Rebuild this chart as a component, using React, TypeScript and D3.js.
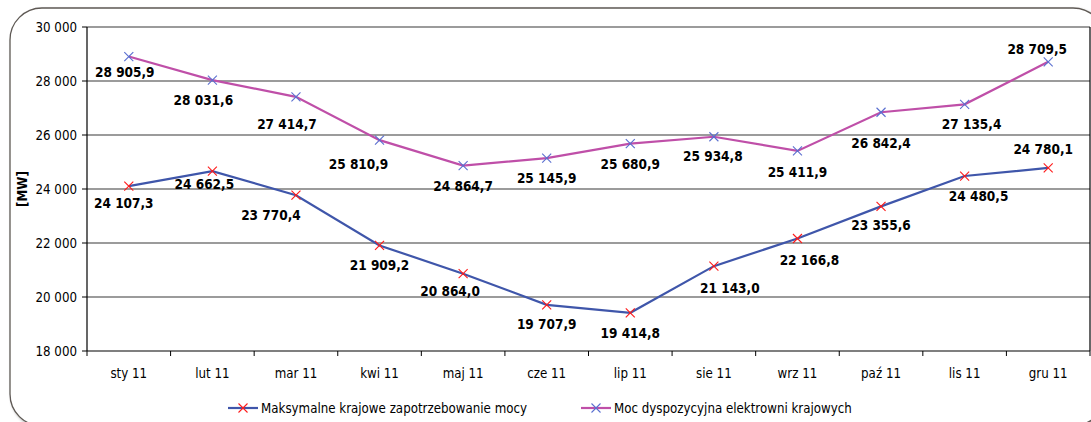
import * as d3 from "d3";

const months = ["sty 11", "lut 11", "mar 11", "kwi 11", "maj 11", "cze 11", "lip 11", "sie 11", "wrz 11", "paź 11", "lis 11", "gru 11"];
const demand = [24107.3, 24662.5, 23770.4, 21909.2, 20864.0, 19707.9, 19414.8, 21143.0, 22166.8, 23355.6, 24480.5, 24780.1];
const capacity = [28905.9, 28031.6, 27414.7, 25810.9, 24864.7, 25145.9, 25680.9, 25934.8, 25411.9, 26842.4, 27135.4, 28709.5];
const yTicks = [18000, 20000, 22000, 24000, 26000, 28000, 30000];
const seriesNames = ["Maksymalne krajowe zapotrzebowanie mocy", "Moc dyspozycyjna elektrowni krajowych"];

// label nudges relative to each point (px), the way the original placed them
const demandNudge: [number, number][] = [[-5, 17], [-8, 13], [-25, 20], [0, 20], [-13, 17], [0, 19], [0, 20], [16, 22], [12, 22], [0, 19], [14, 20], [-5, -19]];
const capacityNudge: [number, number][] = [[-4, 15], [-9, 20], [-9, 27], [-21, 24], [0, 20], [0, 20], [0, 20], [-1, 19], [0, 21], [0, 31], [7, 20], [-11, -13]];

const W = 1091;
const H = 422;
const plot = { left: 87, right: 1090, top: 27, bottom: 351 };

const BLUE = "#3f56aa";
const MAGENTA = "#bf4fa8";
const RED_X = "#ff1a1a";
const BLUE_X = "#5a6fd0";
const GRID = "#7a7a7a";
const FONT = "'DejaVu Sans Condensed', 'DejaVu Sans', sans-serif";
const SMALL = 13.2;

const fmt = (v: number, dec: number) => {
  const s = v.toFixed(dec).replace(".", ",");
  const [int, frac] = s.split(",");
  const grouped = int.replace(/\B(?=(\d{3})+(?!\d))/g, " ");
  return frac !== undefined ? `${grouped},${frac}` : grouped;
};

function Cross({ x, y, color }: { x: number; y: number; color: string }) {
  const s = 4.5;
  return (
    <g stroke={color} strokeWidth={1.1}>
      <line x1={x - s} y1={y - s} x2={x + s} y2={y + s} />
      <line x1={x - s} y1={y + s} x2={x + s} y2={y - s} />
    </g>
  );
}

export default function App() {
  const x = d3.scaleBand<string>().domain(months).range([plot.left, plot.right]);
  const y = d3.scaleLinear().domain([18000, 30000]).range([plot.bottom, plot.top]);
  const cx = (i: number) => (x(months[i]) ?? 0) + x.bandwidth() / 2;

  const line = d3
    .line<number>()
    .x((_, i) => cx(i))
    .y((d) => y(d));

  const series = [
    { values: demand, color: BLUE, marker: RED_X, nudge: demandNudge },
    { values: capacity, color: MAGENTA, marker: BLUE_X, nudge: capacityNudge },
  ];

  const boundaries = d3.range(months.length + 1).map((i) => plot.left + i * x.bandwidth());

  return (
    <svg
      width={W}
      height={H}
      style={{ position: "absolute", left: 0, top: 0, background: "#fff" }}
      fontFamily={FONT}
    >
      <defs>
        <filter id="shadow" x="-5%" y="-5%" width="110%" height="110%">
          <feDropShadow dx="2" dy="2" stdDeviation="1.5" floodColor="#000" floodOpacity="0.35" />
        </filter>
      </defs>

      {/* outer frame */}
      <rect x={10} y={8} width={1095} height={418} rx={32} fill="#fff" stroke="#5e5954" strokeWidth={1.3} filter="url(#shadow)" />

      {/* gridlines */}
      {yTicks.slice(1).map((t) => (
        <line key={t} x1={plot.left} x2={plot.right} y1={y(t)} y2={y(t)} stroke={GRID} strokeWidth={1.4} />
      ))}
      <line x1={plot.right} x2={plot.right} y1={plot.top} y2={plot.bottom} stroke="#000" strokeWidth={1.2} />

      {/* axes */}
      <line x1={plot.left} x2={plot.left} y1={plot.top} y2={plot.bottom} stroke="#000" strokeWidth={1.2} />
      <line x1={plot.left} x2={plot.right} y1={plot.bottom} y2={plot.bottom} stroke="#000" strokeWidth={1.2} />
      {yTicks.map((t) => (
        <g key={t}>
          <line x1={plot.left - 5} x2={plot.left} y1={y(t)} y2={y(t)} stroke="#000" />
          <text x={77} y={y(t)} textAnchor="end" dominantBaseline="central" fontSize={SMALL} fill="#000">
            {fmt(t, 0)}
          </text>
        </g>
      ))}
      {boundaries.map((b, i) => (
        <line key={i} x1={b} x2={b} y1={plot.bottom} y2={plot.bottom + 5} stroke="#000" />
      ))}
      {months.map((m, i) => (
        <text key={m} x={cx(i)} y={373} textAnchor="middle" dominantBaseline="central" fontSize={SMALL} fill="#000">
          {m}
        </text>
      ))}

      <text
        transform={`translate(22,${(plot.top + plot.bottom) / 2}) rotate(-90)`}
        textAnchor="middle"
        dominantBaseline="central"
        fontSize={SMALL}
        fontWeight="bold"
      >
        [MW]
      </text>

      {/* series */}
      {series.map((s, si) => (
        <g key={si}>
          <path d={line(s.values) ?? ""} fill="none" stroke={s.color} strokeWidth={2.2} />
          {s.values.map((v, i) => (
            <Cross key={i} x={cx(i)} y={y(v)} color={s.marker} />
          ))}
          {s.values.map((v, i) => (
            <text
              key={`l${i}`}
              x={cx(i) + s.nudge[i][0]}
              y={y(v) + s.nudge[i][1]}
              textAnchor="middle"
              dominantBaseline="central"
              fontSize={13.5}
              fontWeight="bold"
              fill="#000"
            >
              {fmt(v, 1)}
            </text>
          ))}
        </g>
      ))}

      {/* legend */}
      {series.map((s, si) => {
        const lx = si === 0 ? 228 : 581;
        return (
          <g key={si}>
            <line x1={lx} x2={lx + 30} y1={408} y2={408} stroke={s.color} strokeWidth={2.2} />
            <Cross x={lx + 15} y={408} color={s.marker} />
            <text x={lx + 33} y={408} dominantBaseline="central" fontSize={SMALL} fill="#000">
              {seriesNames[si]}
            </text>
          </g>
        );
      })}
    </svg>
  );
}
